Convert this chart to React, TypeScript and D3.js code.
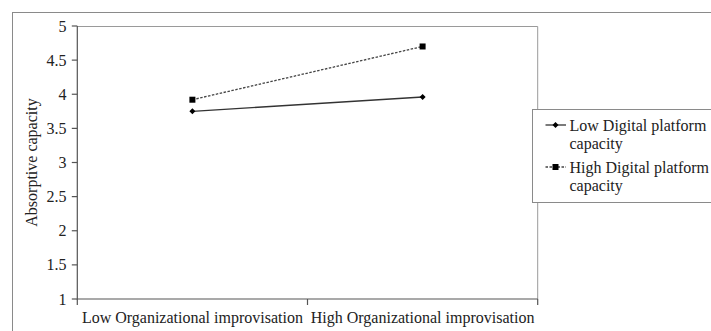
import React from "react";
import * as d3 from "d3";

const categories = ["Low Organizational improvisation", "High Organizational improvisation"];
const lowDPC = [3.75, 3.96];
const highDPC = [3.92, 4.70];
const yTicks = [1, 1.5, 2, 2.5, 3, 3.5, 4, 4.5, 5];
const seriesNames = [["Low Digital platform", "capacity"], ["High Digital platform", "capacity"]];
const yTitle = "Absorptive capacity";

const W = 711, H = 331;
const plot = { left: 77.3, right: 537.7, top: 26, bottom: 299 };
const font = '"Liberation Serif", "Times New Roman", Times, "DejaVu Serif", serif';
const txt: React.CSSProperties = { fontFamily: font, fontSize: "16px" };

export default function App() {
  const x = d3.scaleBand<string>().domain(categories).range([plot.left, plot.right]).padding(0);
  const y = d3.scaleLinear().domain([1, 5]).range([plot.bottom, plot.top]);
  const cx = (c: string) => (x(c) as number) + x.bandwidth() / 2;
  const line = d3.line<[number, number]>().x((d) => d[0]).y((d) => d[1]);
  const ptsLow: [number, number][] = categories.map((c, i) => [cx(c), y(lowDPC[i])]);
  const ptsHigh: [number, number][] = categories.map((c, i) => [cx(c), y(highDPC[i])]);
  const xTickPos = [plot.left, ...categories.map((c) => (x(c) as number) + x.bandwidth())];

  const diamond = (px: number, py: number, r = 3) =>
    `M${px},${py - r}L${px + r},${py}L${px},${py + r}L${px - r},${py}Z`;

  const legX = 532.5, legY = 109, legH = 93;
  const swA = 545.5, swB = 566, swM = 555.5;
  const entryY = [125, 167];
  const textX = 569.5;
  const baselines = [[131, 148.5], [173, 190.5]];

  return (
    <svg width={W} height={H} style={{ position: "absolute", left: 0, top: 0, background: "#fff" }}>
      <rect x={0} y={0} width={W} height={H} fill="#fff" />
      {/* outer chart frame */}
      <rect x={12.5} y={12.5} width={W + 20} height={H + 20} fill="none" stroke="#8a8a8a" strokeWidth={1} />
      {/* plot border top/right */}
      <path d={`M${plot.left},${plot.top + 0.5}H${plot.right}V${plot.bottom}`} fill="none" stroke="#9a9a9a" strokeWidth={1} />
      {/* axes */}
      <path d={`M${plot.left},${plot.top}V${plot.bottom}H${plot.right}`} fill="none" stroke="#555" strokeWidth={1.2} />
      {yTicks.map((t) => (
        <g key={t}>
          <line x1={plot.left - 5.5} x2={plot.left} y1={y(t)} y2={y(t)} stroke="#555" strokeWidth={1.2} />
          <text x={66.5} y={y(t)} dy="0.35em" textAnchor="end" style={txt} fill="#222">{t}</text>
        </g>
      ))}
      {xTickPos.map((p, i) => (
        <line key={i} x1={p} x2={p} y1={plot.bottom} y2={plot.bottom + 6} stroke="#555" strokeWidth={1.2} />
      ))}
      {categories.map((c) => (
        <text key={c} x={cx(c)} y={323} textAnchor="middle" style={txt} fill="#222">{c}</text>
      ))}
      <text transform={`translate(36.5,${(plot.top + plot.bottom) / 2}) rotate(-90)`} textAnchor="middle"
        style={txt} fill="#222">{yTitle}</text>

      {/* series */}
      <path d={line(ptsLow) as string} fill="none" stroke="#333" strokeWidth={1.3} />
      <path d={line(ptsHigh) as string} fill="none" stroke="#444" strokeWidth={1.3} strokeDasharray="2.5,1.5" />
      {ptsLow.map((p, i) => <path key={i} d={diamond(p[0], p[1])} fill="#000" />)}
      {ptsHigh.map((p, i) => <rect key={i} x={p[0] - 3} y={p[1] - 3} width={6} height={6} fill="#000" />)}

      {/* legend */}
      <rect x={legX} y={legY + 0.5} width={W} height={legH} fill="#fff" stroke="#8a8a8a" strokeWidth={1} />
      <line x1={swA} x2={swB} y1={entryY[0]} y2={entryY[0]} stroke="#333" strokeWidth={1.3} />
      <path d={diamond(swM, entryY[0])} fill="#000" />
      <line x1={swA} x2={swB} y1={entryY[1]} y2={entryY[1]} stroke="#444" strokeWidth={1.3} strokeDasharray="2.5,1.5" />
      <rect x={swM - 3} y={entryY[1] - 3} width={6} height={6} fill="#000" />
      {seriesNames.map((lines, i) =>
        lines.map((t, j) => (
          <text key={`${i}-${j}`} x={textX} y={baselines[i][j]} style={txt} fill="#222">{t}</text>
        ))
      )}
    </svg>
  );
}
